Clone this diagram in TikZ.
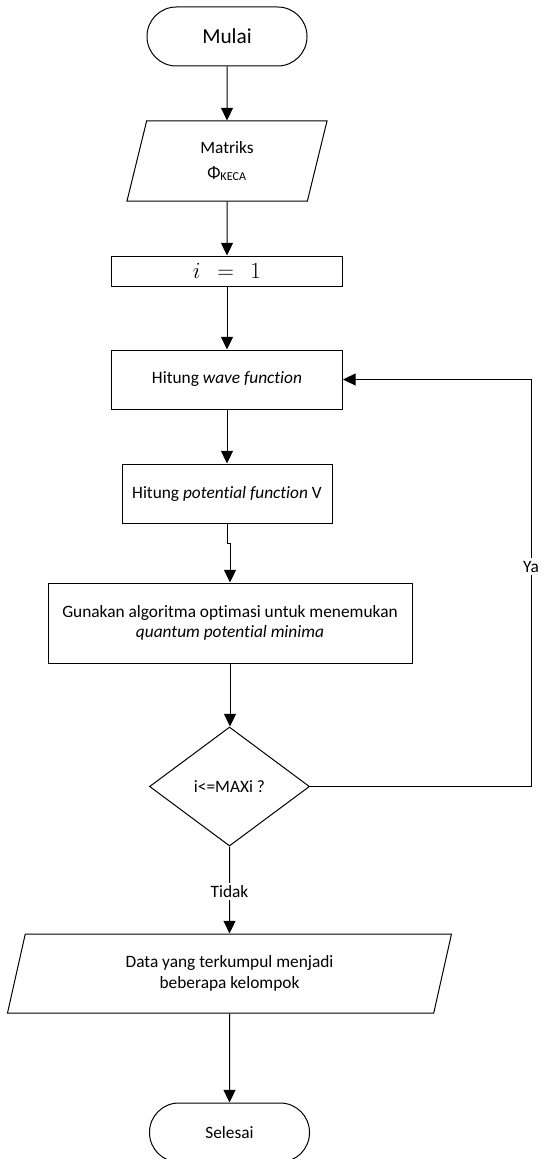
\documentclass[tikz,border=0pt]{standalone}
\usepackage{fontspec}
\setmainfont{Carlito}[Ligatures=NoCommon]
\usepackage{tikz}
\usetikzlibrary{arrows.meta,shapes.geometric}

\begin{document}
\begin{tikzpicture}[x=0.75pt, y=-0.75pt,
		every node/.style={font=\fontsize{13}{15.5}\selectfont, line width=0.75pt, align=center, inner sep=0pt},
		terminal/.style={draw, rectangle, rounded corners=22pt, minimum width=120pt, minimum height=44.25pt},
		proses/.style={draw, rectangle, minimum height=44.25pt},
		datain/.style={draw, trapezium, trapezium left angle=63.4, trapezium right angle=116.6, trapezium stretches body, minimum height=60pt},
		keputusan/.style={draw, diamond, minimum width=120pt, minimum height=89.25pt},
		panah/.style={line width=0.75pt, -{Triangle[width=9pt,length=9.5pt]}},
		label/.style={fill=white, inner sep=2pt}]
		\useasboundingbox (0,0) rectangle (543,1159);
		%\node[terminal] (mulai) at (227,36.5) {Mulai};
		\node[terminal, font=\fontsize{16}{19}\selectfont] (mulai) at (227,36.5) {Mulai};
		\node[datain, minimum width=150pt] (matriks) at (227,161) {Matriks\\[3pt] Φ\textsubscript{KECA}};
		\node[proses, minimum width=173.25pt, minimum height=22.5pt] (init) at (227,271) {\fontsize{17}{19}\selectfont $i\ \ =\ \ 1$};
		\node[proses, minimum width=173.25pt] (wave) at (227,379.5) {Hitung \textit{wave function}};
		\node[proses, minimum width=157.5pt] (potential) at (227,493.5) {Hitung \textit{potential function} V};
		\node[proses, minimum width=273pt, minimum height=60pt] (gunakan) at (230,623) {Gunakan algoritma optimasi untuk menemukan\\ \textit{quantum potential minima}};
		\node[keputusan] (cek) at (229.5,786.5) {i<=MAXi ?};
		\node[datain, minimum width=333pt, minimum height=59.25pt] (data) at (229.5,973.5) {Data yang terkumpul menjadi\\ beberapa kelompok};
		\node[terminal] (selesai) at (229.5,1132.5) {Selesai};
		\coordinate (balik) at (531,379.5);

		\draw[panah] (mulai) -- (matriks);
		\draw[panah] (matriks) -- (init);
		\draw[panah] (init) -- (wave);
		\draw[panah] (wave) -- (potential);
		\draw[panah] (potential.south) -- ++(0,20) -| (gunakan.north);
		\draw[panah] (gunakan.south) -- (gunakan.south |- cek.north);
		\draw[panah] (cek) -- node[label, pos=0.52] {Tidak} (data);
		\draw[panah] (data) -- (selesai);
		\draw[panah] (cek.east) -- (cek.east -| balik) -- node[label, pos=0.54] {Ya} (balik) -- (wave.east);
	\end{tikzpicture}
\end{document}
